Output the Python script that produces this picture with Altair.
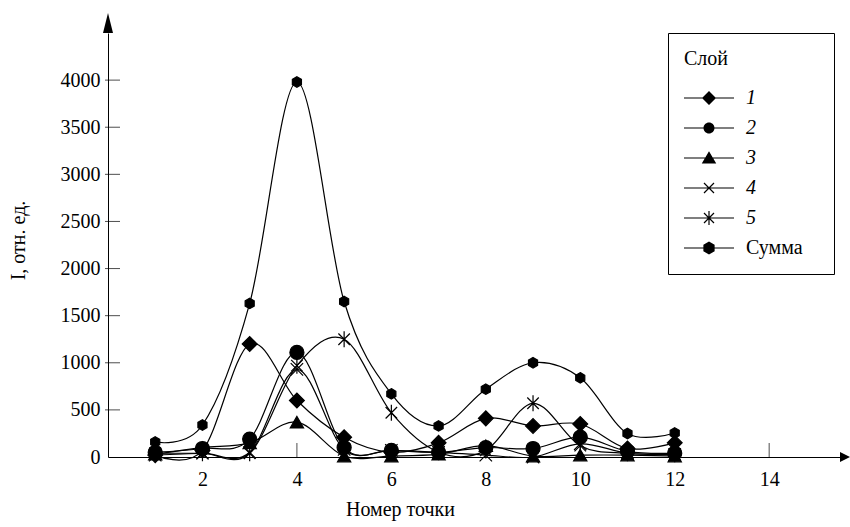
import altair as alt
import pandas as pd

SERIF = "Liberation Serif"

# Measurement points and layer intensities (rel. units)
points = list(range(1, 13))
layer_1 = [20, 70, 1200, 600, 210, 50, 150, 410, 330, 350, 90, 150]
layer_2 = [50, 90, 190, 1110, 100, 70, 50, 100, 90, 210, 60, 40]
layer_3 = [30, 100, 150, 370, 10, 10, 30, 120, 10, 20, 20, 10]
layer_4 = [20, 40, 50, 930, 80, 70, 50, 20, 0, 140, 40, 25]
layer_5 = [40, 40, 40, 970, 1250, 470, 50, 70, 570, 120, 40, 30]
total = [160, 340, 1630, 3980, 1650, 670, 330, 720, 1000, 840, 250, 255]

series_names = ["1", "2", "3", "4", "5", "Сумма"]
series_values = [layer_1, layer_2, layer_3, layer_4, layer_5, total]

x_ticks = [2, 4, 6, 8, 10, 12, 14]
y_labels = [0, 500, 1000, 1500, 2000, 2500, 3000, 3500, 4000]
y_ticks = [500, 1000, 1500, 2000, 2500, 3000, 3500, 4000]
x_max = 15.5
y_max = 4500

rows = []
for name, vals in zip(series_names, series_values):
    for p, v in zip(points, vals):
        rows.append({"point": p, "value": v, "series": name})
df = pd.DataFrame(rows)

# marker paths for the plotted points
marker_shapes = [
    "diamond",
    "circle",
    "triangle-up",
    "M-1,-1L1,1M-1,1L1,-1",
    "M-1,-1L1,1M-1,1L1,-1M0,-1.4L0,1.4",
    "M0,-1L0.866,-0.5L0.866,0.5L0,1L-0.866,0.5L-0.866,-0.5Z",
]
marker_sizes = [220, 110, 190, 110, 110, 170]

# legend symbols: a short line with the marker in its centre (filled outlines only)
LINE = "M-1,-0.024H1V0.024H-1Z"
CROSS = (
    "M-0.183,-0.217L0.217,0.183L0.183,0.217L-0.217,-0.183Z"
    "M-0.217,0.183L0.183,-0.217L0.217,-0.183L-0.183,0.217Z"
)
legend_shapes = [
    LINE + "M0,-0.28L0.28,0L0,0.28L-0.28,0Z",
    LINE + "M-0.22,0A0.22,0.22,0,1,1,0.22,0A0.22,0.22,0,1,1,-0.22,0Z",
    LINE + "M0,-0.27L0.29,0.22L-0.29,0.22Z",
    LINE + CROSS,
    LINE + CROSS + "M-0.024,-0.28H0.024V0.28H-0.024Z",
    LINE + "M0,-0.26L0.225,-0.13L0.225,0.13L0,0.26L-0.225,0.13L-0.225,-0.13Z",
]

x_scale = alt.Scale(domain=[0, x_max], nice=False, zero=False)
y_scale = alt.Scale(domain=[0, y_max], nice=False)

x_enc = alt.X(
    "point:Q",
    scale=x_scale,
    axis=alt.Axis(
        values=x_ticks,
        grid=False,
        ticks=False,
        tickSize=0,
        domainColor="black",
        domainWidth=1,
        labelFont=SERIF,
        labelFontSize=20,
        labelColor="black",
        labelPadding=12,
        title="Номер точки",
        titleFont=SERIF,
        titleFontSize=20,
        titleFontWeight="normal",
        titleColor="black",
        titleX=292,
        titleY=58,
        titleAlign="center",
        titleBaseline="alphabetic",
    ),
)
y_enc = alt.Y(
    "value:Q",
    scale=y_scale,
    axis=alt.Axis(
        values=y_labels,
        format="d",
        grid=False,
        ticks=False,
        tickSize=0,
        domainColor="black",
        domainWidth=1,
        labelFont=SERIF,
        labelFontSize=20,
        labelColor="black",
        labelPadding=8,
        title="I, отн. ед.",
        titleFont=SERIF,
        titleFontSize=20,
        titleFontWeight="normal",
        titleColor="black",
        titleX=-90,
        titleY=207,
        titleAlign="center",
        titleBaseline="middle",
    ),
)

base = alt.Chart(df)

lines = base.mark_line(interpolate="cardinal", color="black", strokeWidth=1.2).encode(
    x=x_enc, y=y_enc, detail="series:N"
)

markers = base.mark_point(
    filled=True, fill="black", stroke="black", strokeWidth=1.2, opacity=1
).encode(
    x=alt.X("point:Q", scale=x_scale),
    y=alt.Y("value:Q", scale=y_scale),
    shape=alt.Shape(
        "series:N",
        scale=alt.Scale(domain=series_names, range=marker_shapes),
        legend=None,
    ),
    size=alt.Size(
        "series:N",
        scale=alt.Scale(domain=series_names, range=marker_sizes),
        legend=None,
    ),
)

# trailing no-break spaces (kept by a zero-width space) widen the legend frame
LABEL_PAD = "\u00a0" * 3 + "\u200b"
legend_layer = base.transform_filter("false").mark_point(
    filled=True, fill="black", size=2500, opacity=1
).encode(
    shape=alt.Shape(
        "series:N",
        scale=alt.Scale(domain=series_names, range=legend_shapes),
        legend=alt.Legend(
            title="Слой",
            orient="none",
            legendX=560,
            legendY=0,
            direction="vertical",
            titleFont=SERIF,
            titleFontSize=20,
            titleFontWeight="normal",
            titleColor="black",
            titlePadding=19,
            labelFont=SERIF,
            labelFontSize=20,
            labelColor="black",
            labelFontStyle={"expr": "datum.label == 'Сумма' ? 'normal' : 'italic'"},
            labelExpr="datum.label == 'Сумма' ? 'Сумма" + LABEL_PAD + "' : datum.label",
            labelOffset=12,
            symbolSize=2500,
            symbolFillColor="black",
            symbolStrokeWidth=0,
            clipHeight=20,
            rowPadding=10,
            padding=16,
            strokeColor="black",
            fillColor="white",
        ),
    )
)

# inward tick marks on both axes
y_tick_marks = alt.Chart(pd.DataFrame({"t": y_ticks})).mark_tick(
    orient="horizontal", size=15, thickness=1, xOffset=4.5, color="black"
).encode(y=alt.Y("t:Q", scale=y_scale), x=alt.datum(0, scale=x_scale))

x_tick_marks = alt.Chart(pd.DataFrame({"t": x_ticks})).mark_tick(
    orient="vertical", size=14, thickness=1, yOffset=-7, color="black"
).encode(x=alt.X("t:Q", scale=x_scale), y=alt.datum(0, scale=y_scale))

# arrow heads at the ends of the axes
x_arrow = alt.Chart(pd.DataFrame({"a": [0]})).mark_point(
    shape="M0,-0.5L1,0L0,0.5Z", size=400, filled=True, color="black", opacity=1
).encode(x=alt.datum(x_max), y=alt.datum(0))

y_arrow = alt.Chart(pd.DataFrame({"a": [0]})).mark_point(
    shape="M-0.25,0L0,-1L0.25,0Z", size=1600, filled=True, color="black", opacity=1
).encode(x=alt.datum(0), y=alt.datum(y_max))

chart = (
    alt.layer(lines, markers, x_tick_marks, y_tick_marks, x_arrow, y_arrow, legend_layer)
    .resolve_scale(shape="independent", size="independent")
    .properties(
        width=732,
        height=424,
        autosize=alt.AutoSizeParams(type="none"),
        padding={"left": 108, "top": 33, "right": 10, "bottom": 70},
        background="white",
    )
    .configure_view(stroke=None)
)

chart.save("out.html", embed_options={"renderer": "svg", "actions": False})
